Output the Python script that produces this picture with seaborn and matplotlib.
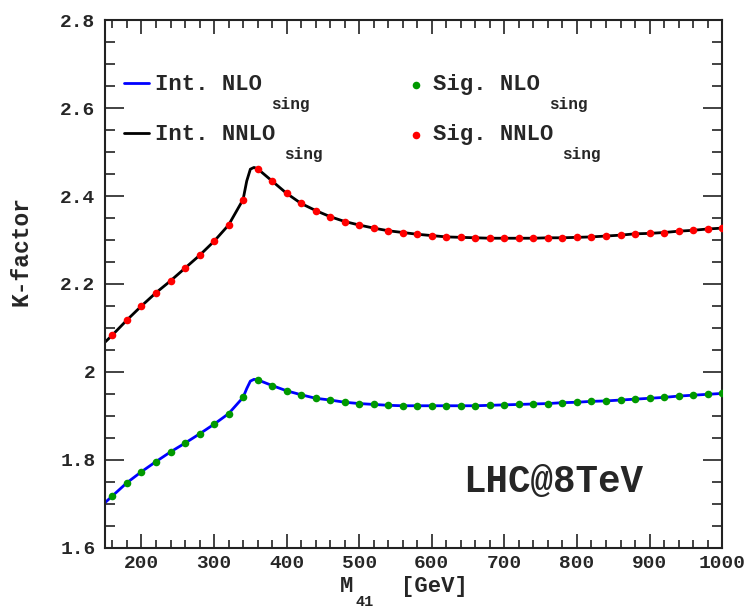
import matplotlib
matplotlib.use("Agg")
import matplotlib.pyplot as plt
from matplotlib.ticker import MultipleLocator, FuncFormatter
import seaborn as sns

# signal points (dots), every 20 GeV
mass = list(range(160, 1001, 20))
sig_nlo = [1.718, 1.748, 1.773, 1.796, 1.818, 1.838, 1.859, 1.881, 1.905, 1.942,
           1.982, 1.969, 1.957, 1.948, 1.940, 1.936, 1.931, 1.928, 1.926, 1.924,
           1.923, 1.923, 1.923, 1.923, 1.923, 1.923, 1.924, 1.925, 1.926, 1.927,
           1.928, 1.930, 1.931, 1.933, 1.934, 1.936, 1.938, 1.940, 1.942, 1.945,
           1.947, 1.949, 1.951]
sig_nnlo = [2.084, 2.118, 2.150, 2.180, 2.207, 2.236, 2.265, 2.297, 2.334, 2.392,
            2.462, 2.434, 2.406, 2.383, 2.367, 2.353, 2.342, 2.334, 2.327, 2.321,
            2.317, 2.313, 2.310, 2.307, 2.306, 2.305, 2.304, 2.304, 2.304, 2.304,
            2.305, 2.305, 2.306, 2.307, 2.309, 2.311, 2.314, 2.315, 2.317, 2.320,
            2.322, 2.325, 2.327]

# extra points of the integrated curves (left edge + top threshold)
extra_mass = [150, 345, 350, 355]
extra_nlo = [1.703, 1.962, 1.979, 1.983]
extra_nnlo = [2.068, 2.434, 2.461, 2.465]

line_pts = sorted(zip(mass + extra_mass, sig_nlo + extra_nlo, sig_nnlo + extra_nnlo))
line_mass = [p[0] for p in line_pts]
int_nlo = [p[1] for p in line_pts]
int_nnlo = [p[2] for p in line_pts]

sns.set_style("ticks")
plt.rcParams["font.family"] = ["Liberation Mono", "DejaVu Sans Mono"]
plt.rcParams["font.weight"] = "bold"
plt.rcParams["axes.labelweight"] = "bold"

fig, ax = plt.subplots(figsize=(7.46, 6.10), dpi=100)
fig.subplots_adjust(left=0.141, right=0.968, top=0.967, bottom=0.102)

sns.lineplot(x=line_mass, y=int_nlo, color="blue", lw=2, label="Int. NLO", ax=ax)
sns.lineplot(x=line_mass, y=int_nnlo, color="black", lw=2, label="Int. NNLO", ax=ax)
sns.scatterplot(x=mass, y=sig_nlo, color="#009900", s=30, linewidth=0,
                label="Sig. NLO", ax=ax, zorder=3)
sns.scatterplot(x=mass, y=sig_nnlo, color="red", s=30, linewidth=0,
                label="Sig. NNLO", ax=ax, zorder=3)

ax.set_xlim(150, 1000)
ax.set_ylim(1.6, 2.8)
ax.xaxis.set_major_locator(MultipleLocator(100))
ax.xaxis.set_minor_locator(MultipleLocator(20))
ax.yaxis.set_major_locator(MultipleLocator(0.2))
ax.yaxis.set_minor_locator(MultipleLocator(0.05))
ax.yaxis.set_major_formatter(FuncFormatter(lambda v, _: f"{v:g}"))

ax.tick_params(which="both", direction="in", top=True, right=True,
               width=1.2, color="#222222", labelsize=14)
ax.tick_params(axis="y", which="major", length=14, pad=7)
ax.tick_params(axis="y", which="minor", length=7)
ax.tick_params(axis="x", which="major", length=10, pad=5)
ax.tick_params(axis="x", which="minor", length=5.5)
for s in ax.spines.values():
    s.set_linewidth(1.5)
    s.set_color("#222222")

ax.set_ylabel("K-factor", fontsize=16.5)
ax.yaxis.set_label_coords(-0.118, 0.5625)

# x label: "M", lowered subscript "41", then "[GeV]"
ax.set_xlabel("M", fontsize=16)
ax.xaxis.set_label_coords(0.392, -0.054)
ax.annotate("41", xy=(1, 0), xycoords=ax.xaxis.label, xytext=(1, 1.5),
            textcoords="offset points", fontsize=11, fontweight="bold",
            va="top", ha="left", zorder=6)
ax.annotate("[GeV]", xy=(1, 1), xycoords=ax.xaxis.label, xytext=(34, 0),
            textcoords="offset points", fontsize=16, fontweight="bold",
            va="top", ha="left", zorder=6)

ax.text(0.726, 0.125, "LHC@8TeV", transform=ax.transAxes, ha="center",
        va="center", fontsize=27, fontweight="bold")

h, l = ax.get_legend_handles_labels()
d = dict(zip(l, h))
common = dict(loc="upper left", frameon=False, fontsize=16, handletextpad=0.3,
              labelspacing=1.3, borderpad=0, borderaxespad=0)
leg1 = ax.legend([d["Int. NLO"], d["Int. NNLO"]], ["Int. NLO", "Int. NNLO"],
                 bbox_to_anchor=(0.031, 0.897), handlelength=1.1, **common)
ax.add_artist(leg1)
leg2 = ax.legend([d["Sig. NLO"], d["Sig. NNLO"]], ["Sig. NLO", "Sig. NNLO"],
                 bbox_to_anchor=(0.485, 0.897), handlelength=1.0, **common)

for t in leg1.get_texts() + leg2.get_texts():
    ax.annotate("sing", xy=(1, 0), xycoords=t, xytext=(6, -9.5),
                textcoords="offset points", fontsize=11.5, fontweight="bold",
                va="baseline", ha="left", zorder=6)

fig.savefig("out.png", dpi=100)
